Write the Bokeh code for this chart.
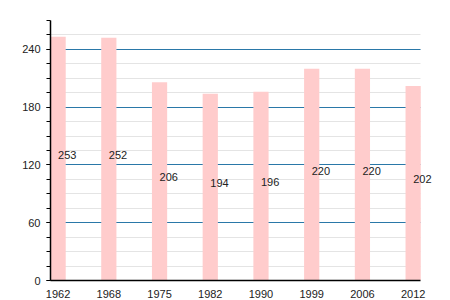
from bokeh.plotting import figure
from bokeh.models import FixedTicker, ColumnDataSource, Range1d
from bokeh.core.properties import value
from bokeh.embed import file_html
from bokeh.resources import INLINE

years = ["1962", "1968", "1975", "1982", "1990", "1999", "2006", "2012"]
population = [253, 252, 206, 194, 196, 220, 220, 202]
y_ticks = [0, 60, 120, 180, 240]

idx = list(range(len(years)))
src = ColumnDataSource(dict(
    x=idx,
    top=population,
    ly=[v / 2 + 4 for v in population],
    lbl=[str(v) for v in population],
))

p = figure(width=450, height=300, output_backend="svg", toolbar_location=None,
           x_range=Range1d(-0.15, 7.5), y_range=Range1d(0, 270),
           min_border_left=50, min_border_right=12, min_border_top=20, min_border_bottom=19)
p.outline_line_color = None
p.background_fill_color = "white"

p.vbar(x="x", top="top", width=0.3, source=src, fill_color="#ffcccc", line_color=None)
p.text(x="x", y="ly", text="lbl", source=src, text_align="left", text_baseline="middle",
       text_font_size="11px", text_font=value("Liberation Sans"), text_color="#222222")

yt = FixedTicker(ticks=y_ticks, minor_ticks=list(range(0, 271, 15)))
p.yaxis.ticker = yt
p.ygrid.ticker = yt
p.ygrid.grid_line_color = "#2a78a8"
p.ygrid.grid_line_width = 1
p.ygrid.minor_grid_line_color = "#e4e4e4"
p.ygrid.minor_grid_line_width = 1
p.ygrid.cross_bounds = (-0.15, 7.15)
p.xgrid.grid_line_color = None

p.yaxis.axis_line_color = "black"
p.yaxis.axis_line_width = 1.5
p.yaxis.major_tick_in = 0
p.yaxis.major_tick_out = 4
p.yaxis.minor_tick_in = 0
p.yaxis.minor_tick_out = 4
p.yaxis.major_tick_line_color = "black"
p.yaxis.minor_tick_line_color = "black"
p.yaxis.major_label_standoff = 6
p.yaxis.major_label_text_font = "Liberation Sans"
p.yaxis.major_label_text_font_size = "11px"
p.yaxis.major_label_text_color = "#222222"

p.xaxis.ticker = FixedTicker(ticks=idx)
p.xaxis.bounds = (-0.15, 7.15)
p.xaxis.major_label_overrides = {i: y for i, y in zip(idx, years)}
p.xaxis.axis_line_color = "black"
p.xaxis.axis_line_width = 1.5
p.xaxis.major_tick_line_color = None
p.xaxis.minor_tick_line_color = None
p.xaxis.major_label_standoff = 3
p.xaxis.major_label_text_font = "Liberation Sans"
p.xaxis.major_label_text_font_size = "11px"
p.xaxis.major_label_text_color = "#222222"

open("out.html", "w").write(file_html(p, INLINE))
